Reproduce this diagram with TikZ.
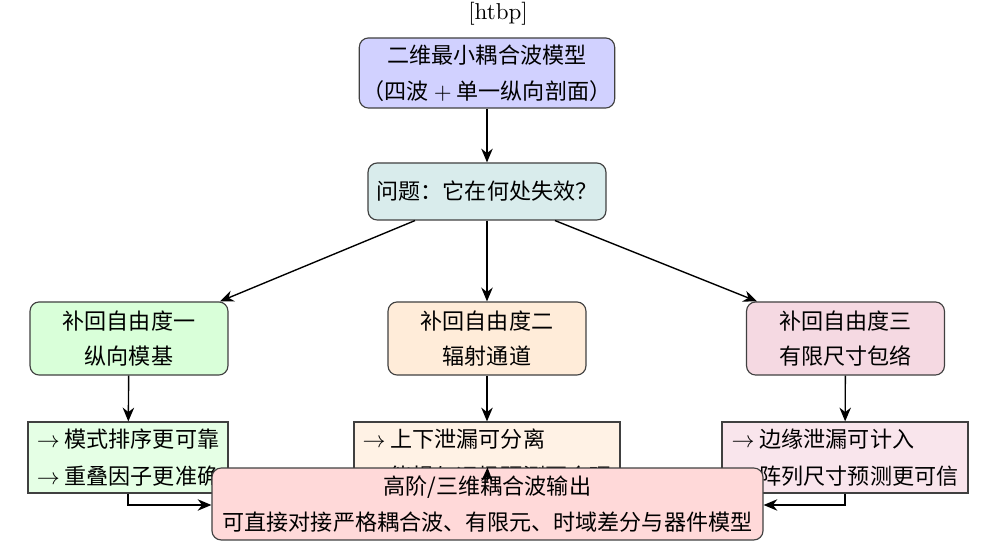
\documentclass[tikz,border=0pt]{standalone}
\usepackage{fontspec}
\newfontfamily\cjk{Noto Sans CJK SC}
\usetikzlibrary{arrows.meta}
\begin{document}
\begin{tikzpicture}[x=0.435pt,y=-0.435pt,
  base/.style={draw=black!75, line width=0.5pt, font=\cjk\fontsize{9.6}{12}\selectfont, inner sep=1.5pt},
  rbox/.style={base, rounded corners=4pt, align=center},
  obox/.style={base, align=left, minimum height=30.9pt},
  arr/.style={-{Stealth[length=6pt,width=5pt]}, line width=0.6pt}]
\useasboundingbox (0,0) rectangle (998,553);
\node (hdr) at (498,14) {[htbp]};
\node[rbox, fill=blue!18, minimum width=104.4pt, minimum height=30.5pt] (top) at (487,73)
  {二维最小耦合波模型\\[3.5pt]（四波\ $+$\ 单一纵向剖面）};
\node[rbox, fill=teal!15, minimum width=103.5pt, minimum height=24.8pt] (prob) at (487,191.5)
  {问题：它在何处失效？};
\node[rbox, fill=green!15, minimum width=86.1pt, minimum height=31.8pt] (d1) at (129,338.5)
  {补回自由度一\\[3.5pt]纵向模基};
\node[rbox, fill=orange!15, minimum width=86.1pt, minimum height=31.8pt] (d2) at (487,338.5)
  {补回自由度二\\[3.5pt]辐射通道};
\node[rbox, fill=purple!15, minimum width=86.1pt, minimum height=31.8pt] (d3) at (845.5,338.5)
  {补回自由度三\\[3.5pt]有限尺寸包络};
\node[obox, fill=green!10, minimum width=87pt] (o1) at (128,457.5)
  {$\rightarrow$\ 模式排序更可靠\\[4pt]$\rightarrow$\ 重叠因子更准确};
\node[obox, fill=orange!10, minimum width=115.7pt] (o2) at (487,457.5)
  {$\rightarrow$\ 上下泄漏可分离\\[4pt]$\rightarrow$\ 能损与远场预测更合理};
\node[obox, fill=purple!10, minimum width=107pt] (o3) at (845,457.5)
  {$\rightarrow$\ 边缘泄漏可计入\\[4pt]$\rightarrow$\ 阵列尺寸预测更可信};
\node[rbox, fill=red!15, minimum width=239.7pt, minimum height=31.3pt] (fin) at (487.5,504)
  {高阶/三维耦合波输出\\[3.5pt]可直接对接严格耦合波、有限元、时域差分与器件模型};
\draw[arr] (top) -- (prob);
\draw[arr] (prob.south -| 415,0) -- (d1.north east -| 220,0);
\draw[arr] (prob) -- (d2);
\draw[arr] (prob.south -| 555,0) -- (d3.north west -| 757,0);
\draw[arr] (d1) -- (o1);
\draw[arr] (d2) -- (o2);
\draw[arr] (d3) -- (o3);
\draw[arr] (o1.south) |- (fin.west |- 0,505);
\draw[arr] ([yshift=5pt]o2.south) -- (fin.north);
\draw[arr] (o3.south) |- (fin.east |- 0,505);
\end{tikzpicture}
\end{document}
